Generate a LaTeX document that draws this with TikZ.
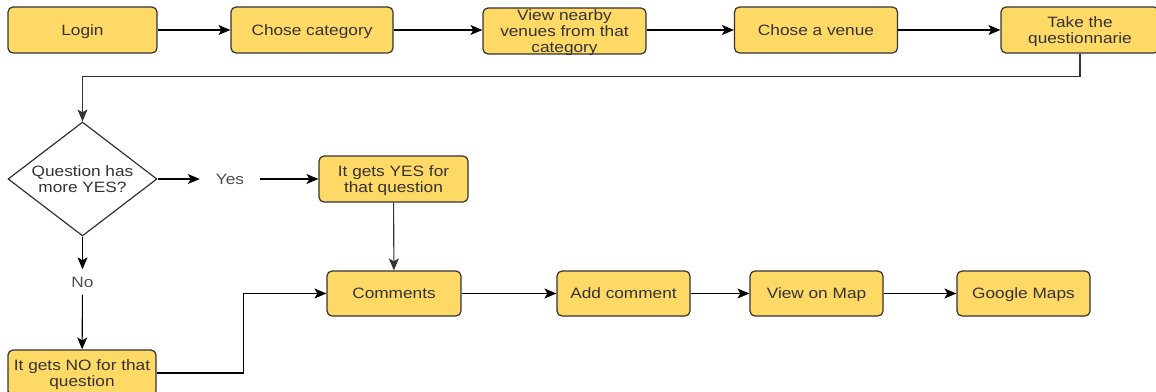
\documentclass[tikz,border=0pt]{standalone}
\usepackage{fontspec}
\setmainfont{Liberation Sans}[FakeStretch=1.15]
\usepackage{tikz}
\usetikzlibrary{arrows.meta}
\usetikzlibrary{shapes.geometric}
\definecolor{boxfill}{HTML}{FFD966}
\definecolor{boxline}{HTML}{333333}
\definecolor{boxtext}{HTML}{333333}
\definecolor{labeltext}{HTML}{4D4D4D}
\tikzset{conn/.style={-{Stealth[length=12pt, width=10pt, inset=3pt]}, line width=1.1pt}}

\begin{document}
\begin{tikzpicture}[x=1pt,y=-1pt]
	\useasboundingbox (0,0) rectangle (1156,391);

	\begin{scope}[every node/.style={rectangle, rounded corners=5pt, draw=boxline, fill=boxfill,
	              line width=1.2pt, text=boxtext, align=center, inner sep=1pt, text depth=0pt,
	              minimum height=46pt, font=\fontsize{15}{16}\selectfont}]
		\node[minimum width=149pt] (login) at (82.5,30) {Login};
		\node[minimum width=162pt] (cat) at (312,30) {Chose category};
		\node[minimum width=163pt, inner sep=0pt] (nearby) at (564.5,31) {View nearby\\venues from that\\category};
		\node[minimum width=163pt] (venue) at (816,30) {Chose a venue};
		\node[minimum width=158pt] (quest) at (1080,30) {Take the\\questionnarie};
		\node[minimum width=149pt] (yesbox) at (393.5,179) {It gets YES for\\that question};
		\node[minimum width=148pt] (nobox) at (82,373) {It gets NO for that\\question};
		\node[minimum width=134pt, minimum height=45pt] (comments) at (394,293.5) {Comments};
		\node[minimum width=133pt, minimum height=45pt] (add) at (623.5,293.5) {Add comment};
		\node[minimum width=133pt, minimum height=45pt] (map) at (816.5,293.5) {View on Map};
		\node[minimum width=133pt, minimum height=45pt] (gmaps) at (1023.5,293.5) {Google Maps};
		\node[diamond, rounded corners=0pt, fill=white, aspect=1.3, minimum width=149pt,
		      minimum height=114pt] (dec) at (82.5,179) {Question has\\more YES?};
	\end{scope}

	\begin{scope}[every node/.style={text=labeltext, font=\fontsize{15}{16}\selectfont,
	              inner sep=0pt, text depth=0pt}]
		\node[minimum width=60pt] (yes) at (230,179) {Yes};
		\node[minimum height=25pt] (no) at (82.5,282) {No};
	\end{scope}

	\draw[conn] (login) -- (cat);
	\draw[conn] (cat) -- (nearby.west |- cat);
	\draw[conn] (nearby.east |- venue) -- (venue);
	\draw[conn] (venue) -- (quest);
	\draw[conn, draw=boxline] (quest.south) -- ++(0,23) -| (dec.north);
	\draw[conn] (dec) -- (yes);
	\draw[conn] (yes) -- (yesbox);
	\draw[conn] (dec) -- (no);
	\draw[conn] (no) -- (nobox);
	\draw[conn, draw=boxline] (yesbox) -- (comments);
	\draw[conn] (nobox.east) -- ++(87,0) |- (comments.west);
	\draw[conn] (comments) -- (add);
	\draw[conn] (add) -- (map);
	\draw[conn] (map) -- (gmaps);
\end{tikzpicture}
\end{document}
